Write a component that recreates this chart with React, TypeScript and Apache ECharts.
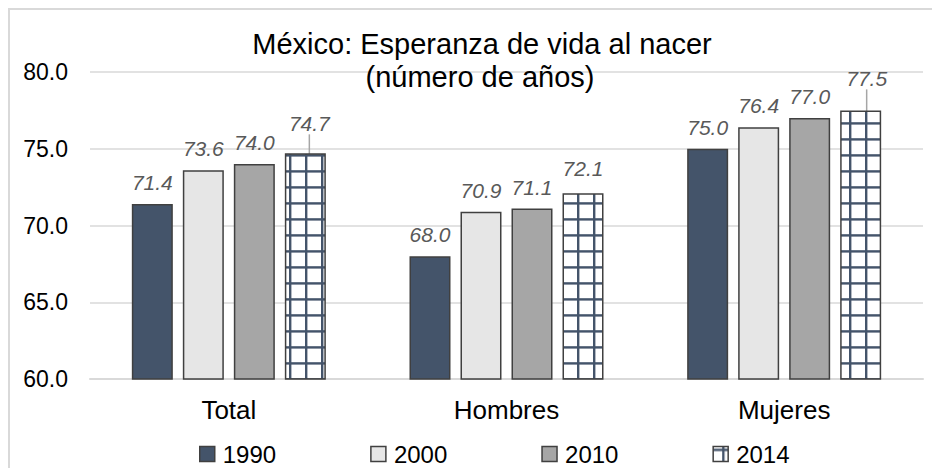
import React, { useEffect, useRef } from "react";
import * as echarts from "echarts";

const categories = ["Total", "Hombres", "Mujeres"];
const years = ["1990", "2000", "2010", "2014"];
const v1990 = [71.4, 68.0, 75.0];
const v2000 = [73.6, 70.9, 76.4];
const v2010 = [74.0, 71.1, 77.0];
const v2014 = [74.7, 72.1, 77.5];
const yTicks = [60, 65, 70, 75, 80];
const titleLine1 = "México: Esperanza de vida al nacer";
const titleLine2 = "(número de años)";

// label nudges for the 2014 series (styling)
const nudge2014 = [
  { dx: 4, dy: -8, line: true },
  { dx: 0, dy: -3, line: false },
  { dx: 6, dy: -10, line: true },
];

const FONT = "'Liberation Sans', Arial, sans-serif";

function makePattern(): HTMLCanvasElement {
  const c = document.createElement("canvas");
  c.width = 16;
  c.height = 16;
  const ctx = c.getContext("2d")!;
  ctx.fillStyle = "#ffffff";
  ctx.fillRect(0, 0, 16, 16);
  ctx.fillStyle = "#44546a";
  ctx.fillRect(9, 0, 2.4, 16);
  ctx.fillRect(0, 2.2, 16, 2.4);
  return c;
}

export default function App() {
  const ref = useRef<HTMLDivElement>(null);
  useEffect(() => {
    if (!ref.current) return;
    const chart = echarts.init(ref.current, undefined, { renderer: "svg" });
    const pattern = { image: makePattern(), repeat: "repeat" };
    const colors: any[] = ["#44546a", "#e6e6e6", "#a6a6a6", pattern];
    const values = [v1990, v2000, v2010, v2014];

    const labelBase = {
      show: true,
      position: "top",
      distance: 11,
      fontSize: 21,
      fontStyle: "italic",
      fontFamily: FONT,
      color: "#595959",
      formatter: (p: any) => Number(p.value).toFixed(1),
    };

    const series = years.map((y, i) => {
      const isLast = i === 3;
      return {
        name: y,
        type: "bar",
        barWidth: 41,
        barGap: "24.4%",
        itemStyle: {
          color: colors[i],
          borderColor: "#404040",
          borderWidth: 1.5,
        },
        label: labelBase,
        labelLayout: isLast
          ? (p: any) => ({ dx: nudge2014[p.dataIndex].dx, dy: nudge2014[p.dataIndex].dy })
          : undefined,
        data: values[i].map((v, j) =>
          isLast
            ? {
                value: v,
                labelLine: {
                  show: nudge2014[j].line,
                  lineStyle: { color: "#a6a6a6", width: 1.5 },
                },
              }
            : v
        ),
      };
    });

    chart.setOption({
      animation: false,
      backgroundColor: "#ffffff",
      graphic: [
        {
          type: "text",
          x: 474,
          y: 36,
          style: {
            text: titleLine1,
            font: `29px ${FONT}`,
            fill: "#000000",
            textAlign: "center",
            textVerticalAlign: "middle",
          },
          z: 10,
        },
        {
          type: "text",
          x: 472,
          y: 69,
          style: {
            text: titleLine2,
            font: `29px ${FONT}`,
            fill: "#000000",
            textAlign: "center",
            textVerticalAlign: "middle",
          },
          z: 10,
        },
      ],
      legend: {
        data: years,
        icon: "rect",
        left: 186,
        top: 429,
        itemWidth: 15,
        itemHeight: 15,
        itemGap: 94,
        textStyle: {
          fontSize: 24,
          fontFamily: FONT,
          color: "#000000",
          padding: [0, 0, 0, 3],
        },
        itemStyle: { borderColor: "#404040", borderWidth: 1.5 },
      },
      grid: { left: 82, right: 9, top: 64, bottom: 89 },
      xAxis: {
        type: "category",
        data: categories,
        axisTick: { show: false },
        axisLine: { lineStyle: { color: "#d9d9d9", width: 2 } },
        axisLabel: {
          fontSize: 26,
          fontFamily: FONT,
          color: "#000000",
          margin: 18,
        },
      },
      yAxis: {
        type: "value",
        min: yTicks[0],
        max: yTicks[yTicks.length - 1],
        interval: 5,
        axisLine: { show: false },
        axisTick: { show: false },
        splitLine: { lineStyle: { color: "#d9d9d9", width: 1.5 } },
        axisLabel: {
          fontSize: 23,
          fontFamily: FONT,
          color: "#000000",
          margin: 22,
          formatter: (v: number) => v.toFixed(1),
        },
      },
      series,
    });
    return () => chart.dispose();
  }, []);

  return (
    <div style={{ position: "relative", width: 924, height: 460 }}>
      <div ref={ref} style={{ position: "absolute", left: 0, top: 0, width: 924, height: 460 }} />
      <div
        style={{
          position: "absolute",
          left: 0,
          top: 0,
          width: 924,
          height: 460,
          borderLeft: "2px solid #d9d9d9",
          borderTop: "2px solid #d9d9d9",
          boxSizing: "border-box",
          pointerEvents: "none",
        }}
      />
    </div>
  );
}
